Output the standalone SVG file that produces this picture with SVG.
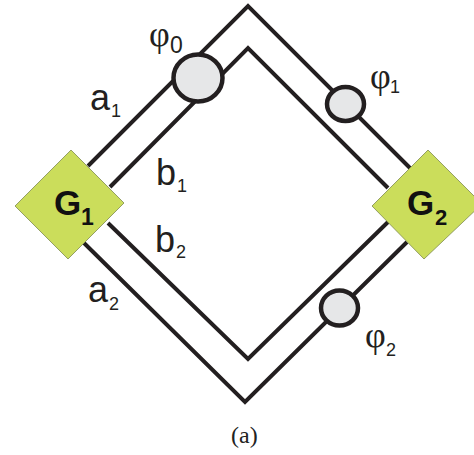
<svg xmlns="http://www.w3.org/2000/svg" width="474" height="455" viewBox="0 0 474 455">
<style>
.w{fill:none;stroke:#231f20;stroke-width:4;stroke-linecap:butt;stroke-linejoin:miter}
.g{fill:#cbdd5b;stroke:#7f8a50;stroke-width:.8}
.p{fill:#e6e7e8;stroke:#231f20;stroke-width:4.5}
.l{font-family:"Liberation Sans",Arial,sans-serif;fill:#231f20;font-size:36px}
.s{font-family:"Liberation Sans",Arial,sans-serif;fill:#231f20;font-size:18px}
.f{font-family:"Liberation Serif","Times New Roman",serif;fill:#231f20;font-size:36px}
.b{font-family:"Liberation Sans",Arial,sans-serif;fill:#111;font-weight:bold}
</style>
<rect width="474" height="455" fill="#fff"/>
<g id="connectors">
<path class="w" d="M88 166L248 6L410 168"/>
<path class="w" d="M110 187L248 48L388 188"/>
<path class="w" d="M84 243L245 402L407 242"/>
<path class="w" d="M108 223L248 359L388 222"/>
</g>
<g id="G1"><path class="g" d="M71 150L124 203L68 259L15 206Z"/>
<text class="b" x="54" y="215" font-size="35">G</text><text class="b" x="81" y="225" font-size="23">1</text></g>
<g id="G2"><path class="g" d="M428 150L482 204L424 259L372 206Z"/>
<text class="b" x="407" y="215" font-size="35">G</text><text class="b" x="435" y="225" font-size="22">2</text></g>
<g id="phi0"><ellipse class="p" cx="198" cy="78" rx="24.500" ry="23.500"/>
<text class="f" x="149" y="46">φ</text><text class="s" x="170" y="53" style="font-size:23px">0</text></g>
<g id="phi1"><ellipse class="p" cx="345.500" cy="104" rx="18.500" ry="17"/>
<text class="f" x="370" y="88">φ</text><text class="s" x="390" y="93">1</text></g>
<g id="phi2"><ellipse class="p" cx="339.500" cy="308" rx="18.500" ry="17.500"/>
<text class="f" x="365" y="347">φ</text><text class="s" x="386" y="356">2</text></g>
<g id="a1"><text class="l" x="90" y="110">a</text><text class="s" x="111" y="117">1</text></g>
<g id="b1"><text class="l" x="156" y="185">b</text><text class="s" x="177" y="192">1</text></g>
<g id="b2"><text class="l" x="155" y="252">b</text><text class="s" x="176" y="258">2</text></g>
<g id="a2"><text class="l" x="88" y="302">a</text><text class="s" x="109" y="310">2</text></g>
<text id="caption" x="231" y="443" font-family="Liberation Serif,serif" font-size="24" fill="#222">(a)</text>
</svg>
